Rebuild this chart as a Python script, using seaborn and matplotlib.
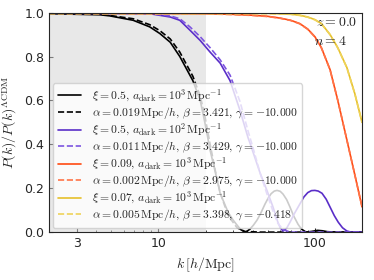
import numpy as np
import matplotlib
matplotlib.use('Agg')
import matplotlib.pyplot as plt
import seaborn as sns

sns.set_style("ticks")
plt.rcParams['font.family'] = ['DejaVu Sans']
plt.rcParams['mathtext.fontset'] = 'cm'
plt.rcParams['xtick.direction'] = 'in'
plt.rcParams['ytick.direction'] = 'in'

# 数据
k_black = [2, 4.24, 4.9, 6.9, 8.8, 10.2, 11.9, 13.7, 16.6, 18.5, 19.8, 21.4, 23.1, 24.8, 27.9,
           30, 31.8, 33.5, 35.7, 36.5, 38.5, 40.5, 42.7, 45, 48, 50, 52.5, 55, 57.3, 60, 62.6,
           66, 69.3, 73, 78, 82, 87.8, 95, 104, 112, 120, 135, 200]
p_black = [0.995, 0.99, 0.985, 0.965, 0.935, 0.905, 0.865, 0.80, 0.69, 0.60, 0.50, 0.373, 0.273,
           0.177, 0.09, 0.055, 0.032, 0.012, 0.0, 0.002, 0.014, 0.032, 0.055, 0.085, 0.128, 0.152,
           0.175, 0.187, 0.19, 0.186, 0.173, 0.148, 0.114, 0.075, 0.036, 0.014, 0.0, 0.003, 0.008,
           0.006, 0.002, 0.0, 0.0]
k_black_fit = [2, 4.24, 6.9, 8.8, 10.2, 11.9, 13.7, 16.6, 18.5, 19.8, 21.4, 23.1, 24.8, 27.9,
               31.8, 35.7, 45, 200]
p_black_fit = [0.997, 0.993, 0.972, 0.945, 0.918, 0.88, 0.82, 0.71, 0.62, 0.53, 0.40, 0.28,
               0.18, 0.075, 0.02, 0.003, 0.0, 0.0]

k_purple = [2, 8.8, 11.9, 13.7, 15.9, 18.5, 21.4, 24.8, 28.7, 33.2, 37.4, 38.5, 44.6, 49.6, 54.0,
            58, 60, 62.6, 66, 69.3, 74, 80.4, 85, 90, 95, 100, 105, 111, 118, 125, 133, 141, 150,
            160, 170, 200]
p_purple = [0.997, 0.995, 0.98, 0.965, 0.92, 0.873, 0.82, 0.77, 0.69, 0.555, 0.43, 0.405, 0.27,
            0.186, 0.114, 0.045, 0.02, 0.005, 0.018, 0.045, 0.085, 0.13, 0.16, 0.18, 0.189, 0.19,
            0.187, 0.177, 0.15, 0.114, 0.075, 0.045, 0.02, 0.005, 0.0, 0.0]
k_purple_fit = [2, 8.8, 11.9, 13.7, 15.9, 18.5, 21.4, 24.8, 28.7, 33.2, 37.4, 40, 44.6, 49.6, 54,
                58, 63, 70, 200]
p_purple_fit = [0.998, 0.996, 0.985, 0.972, 0.935, 0.89, 0.84, 0.785, 0.715, 0.595, 0.46, 0.39,
                0.27, 0.17, 0.095, 0.04, 0.01, 0.0, 0.0]

k_orange = [2, 20, 30, 40, 50, 60, 70, 80, 90, 100, 110, 125, 140, 160, 180, 200]
p_orange = [0.998, 0.995, 0.992, 0.988, 0.983, 0.975, 0.965, 0.95, 0.925, 0.89, 0.84, 0.74, 0.60,
            0.42, 0.26, 0.115]
p_orange_fit = [0.996, 0.994, 0.991, 0.987, 0.982, 0.974, 0.964, 0.949, 0.924, 0.889, 0.839,
                0.739, 0.60, 0.42, 0.26, 0.116]

k_yellow = [2, 50, 70, 80, 90, 100, 110, 125, 140, 160, 180, 200]
p_yellow = [0.998, 0.997, 0.993, 0.988, 0.98, 0.968, 0.95, 0.9, 0.84, 0.75, 0.63, 0.50]
p_yellow_fit = [0.995, 0.995, 0.992, 0.987, 0.979, 0.967, 0.949, 0.899, 0.839, 0.749, 0.629, 0.50]

labels = [
    r'$\xi = 0.5,\, a_{\rm dark} = 10^3\,{\rm Mpc}^{-1}$',
    r'$\alpha = 0.019\,{\rm Mpc}/h,\, \beta = 3.421,\, \gamma = -10.000$',
    r'$\xi = 0.5,\, a_{\rm dark} = 10^2\,{\rm Mpc}^{-1}$',
    r'$\alpha = 0.011\,{\rm Mpc}/h,\, \beta = 3.429,\, \gamma = -10.000$',
    r'$\xi = 0.09,\, a_{\rm dark} = 10^3\,{\rm Mpc}^{-1}$',
    r'$\alpha = 0.002\,{\rm Mpc}/h,\, \beta = 2.975,\, \gamma = -10.000$',
    r'$\xi = 0.07,\, a_{\rm dark} = 10^3\,{\rm Mpc}^{-1}$',
    r'$\alpha = 0.005\,{\rm Mpc}/h,\, \beta = 3.398,\, \gamma = -0.418$',
]

fig = plt.figure(figsize=(3.74, 2.8), dpi=100)
ax = fig.add_axes([0.131, 0.171, 0.837, 0.784])

# 灰色区域 k < 20
ax.axvspan(2, 20, color='lightgray', alpha=0.5, lw=0)

series = [
    (k_black, p_black, 'black', '-', labels[0]),
    (k_black_fit, p_black_fit, 'black', '--', labels[1]),
    (k_purple, p_purple, '#5a2ec8', '-', labels[2]),
    (k_purple_fit, p_purple_fit, '#7d55e0', '--', labels[3]),
    (k_orange, p_orange, '#ff4a12', '-', labels[4]),
    (k_orange, p_orange_fit, '#ff7448', '--', labels[5]),
    (k_yellow, p_yellow, '#e6c02a', '-', labels[6]),
    (k_yellow, p_yellow_fit, '#efd35a', '--', labels[7]),
]
for kk, pp, c, ls, lab in series:
    sns.lineplot(x=kk, y=pp, ax=ax, color=c, linestyle=ls, lw=1.2, label=lab, sort=False)

ax.set_xscale('log')
ax.set_xlim(2, 200)
ax.set_ylim(0, 1.0)
ax.set_xticks([3, 10, 100])
ax.set_xticklabels(['3', '10', '100'])
ax.set_yticks([0, 0.2, 0.4, 0.6, 0.8, 1.0])
ax.set_yticklabels(['0.0', '0.2', '0.4', '0.6', '0.8', '1.0'])
ax.tick_params(labelsize=9, length=3)
ax.tick_params(which='minor', length=1.5)

ax.set_xlabel(r'$k\,[h/{\rm Mpc}]$', fontsize=10)
ax.set_ylabel(r'$P(k)/P(k)^{\Lambda{\rm CDM}}$', fontsize=10)

ax.text(0.985, 0.955, r'$z = 0.0$', transform=ax.transAxes, ha='right', va='center', fontsize=10)
ax.text(0.95, 0.87, r'$n = 4$', transform=ax.transAxes, ha='right', va='center', fontsize=10)

leg = ax.legend(loc='lower left', fontsize=8.4, framealpha=0.8, handlelength=2.0,
                borderaxespad=0.35, labelspacing=0.08, handletextpad=0.9)

fig.savefig('out.png', dpi=100)
